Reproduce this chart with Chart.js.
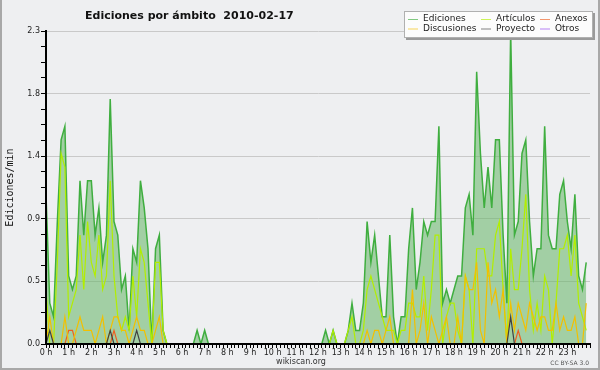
<!DOCTYPE html>
<html>
<head>
<meta charset="utf-8">
<script src="https://cdn.jsdelivr.net/npm/chart.js@4.4.1/dist/chart.umd.min.js"></script>
<style>
  html, body { margin: 0; padding: 0; background: #eeeff1; }
  #wrap { width: 600px; height: 370px; }
</style>
</head>
<body>
<div id="wrap"><canvas id="scopeChart" width="600" height="370"></canvas></div>
<script>
const chartTitle = 'Ediciones por ámbito  2010-02-17'
const yTitle = 'Ediciones/min'
const footerSite = 'wikiscan.org'
const footerLicense = 'CC BY-SA 3.0'

// one slot every 10 minutes (x in minutes since 0 h)
const slotMinutes = Array.from({ length: 144 }, (_, i) => i * 10)
const hourLabels = ['0 h', '1 h', '2 h', '3 h', '4 h', '5 h', '6 h', '7 h', '8 h', '9 h', '10 h', '11 h',
  '12 h', '13 h', '14 h', '15 h', '16 h', '17 h', '18 h', '19 h', '20 h', '21 h', '22 h', '23 h']
const yMax = 2.3
const yTickLabels = ['0.0', '0.5', '0.9', '1.4', '1.8', '2.3']

// edits per minute, 12 slots (2 hours) per row
const ediciones = [
  1.1, 0.3, 0.2, 0.9, 1.5, 1.6, 0.5, 0.4, 0.5, 1.2, 0.8, 1.2,
  1.2, 0.8, 1.0, 0.6, 0.8, 1.8, 0.9, 0.8, 0.4, 0.5, 0.1, 0.7,
  0.6, 1.2, 1.0, 0.7, 0, 0.7, 0.8, 0.1, 0, 0, 0, 0,
  0, 0, 0, 0, 0.1, 0, 0.1, 0, 0, 0, 0, 0,
  0, 0, 0, 0, 0, 0, 0, 0, 0, 0, 0, 0,
  0, 0, 0, 0, 0, 0, 0, 0, 0, 0, 0, 0,
  0, 0, 0.1, 0, 0.1, 0, 0, 0, 0.1, 0.3, 0.1, 0.1,
  0.3, 0.9, 0.6, 0.8, 0.5, 0.2, 0.2, 0.8, 0.2, 0, 0.2, 0.2,
  0.7, 1.0, 0.4, 0.6, 0.9, 0.8, 0.9, 0.9, 1.6, 0.3, 0.4, 0.3,
  0.4, 0.5, 0.5, 1.0, 1.1, 0.8, 2.0, 1.4, 1.0, 1.3, 1.0, 1.5,
  1.5, 0.8, 0.3, 2.3, 0.8, 0.9, 1.4, 1.5, 0.9, 0.5, 0.7, 0.7,
  1.6, 0.8, 0.7, 0.7, 1.1, 1.2, 0.9, 0.7, 1.1, 0.5, 0.4, 0.6
]
const articulos = [
  0.4, 0, 0, 0.6, 1.4, 1.3, 0.2, 0.3, 0.4, 0.8, 0.4, 0.9,
  0.6, 0.5, 0.8, 0.4, 0.5, 1.2, 0.5, 0.2, 0.1, 0.2, 0.1, 0.5,
  0.2, 0.7, 0.6, 0.3, 0, 0.6, 0.6, 0.1, 0, 0, 0, 0,
  0, 0, 0, 0, 0, 0, 0, 0, 0, 0, 0, 0,
  0, 0, 0, 0, 0, 0, 0, 0, 0, 0, 0, 0,
  0, 0, 0, 0, 0, 0, 0, 0, 0, 0, 0, 0,
  0, 0, 0, 0, 0.1, 0, 0, 0, 0.1, 0.2, 0, 0,
  0.1, 0.4, 0.5, 0.4, 0.3, 0.2, 0.1, 0.1, 0.1, 0, 0.1, 0.1,
  0.3, 0.3, 0.2, 0.2, 0.5, 0.1, 0.4, 0.8, 0.8, 0, 0.2, 0.3,
  0.3, 0.1, 0, 0.5, 0.4, 0, 0.7, 0.7, 0.7, 0.5, 0.5, 0.8,
  0.9, 0.4, 0, 0.7, 0.4, 0.4, 0.7, 1.1, 0.4, 0.1, 0.3, 0.1,
  0.5, 0.4, 0, 0.3, 0.7, 0.7, 0.8, 0.5, 0.8, 0.3, 0.2, 0.1
]
const anexos = [
  0, 0, 0, 0, 0, 0, 0.1, 0.1, 0, 0, 0, 0,
  0, 0, 0, 0, 0, 0, 0.1, 0, 0, 0, 0, 0,
  0, 0, 0, 0, 0, 0, 0, 0, 0, 0, 0, 0,
  0, 0, 0, 0, 0, 0, 0, 0, 0, 0, 0, 0,
  0, 0, 0, 0, 0, 0, 0, 0, 0, 0, 0, 0,
  0, 0, 0, 0, 0, 0, 0, 0, 0, 0, 0, 0,
  0, 0, 0, 0, 0, 0, 0, 0, 0, 0, 0, 0,
  0, 0, 0, 0, 0, 0, 0, 0, 0, 0, 0, 0,
  0, 0, 0, 0, 0, 0, 0, 0, 0, 0, 0, 0,
  0, 0, 0, 0, 0, 0, 0, 0, 0, 0, 0, 0,
  0, 0, 0, 0, 0, 0.1, 0, 0, 0, 0, 0, 0,
  0, 0, 0, 0, 0, 0, 0, 0, 0, 0, 0, 0
]
const discusiones = [
  0, 0.2, 0, 0, 0, 0.2, 0, 0, 0.1, 0.2, 0.1, 0.1,
  0.1, 0, 0.1, 0.2, 0, 0.1, 0.2, 0.2, 0.1, 0.1, 0, 0.1,
  0.2, 0.1, 0.1, 0, 0, 0.1, 0.2, 0, 0, 0, 0, 0,
  0, 0, 0, 0, 0, 0, 0, 0, 0, 0, 0, 0,
  0, 0, 0, 0, 0, 0, 0, 0, 0, 0, 0, 0,
  0, 0, 0, 0, 0, 0, 0, 0, 0, 0, 0, 0,
  0, 0, 0, 0, 0, 0, 0, 0, 0, 0, 0, 0,
  0, 0.1, 0, 0.1, 0.1, 0, 0.1, 0.2, 0, 0, 0, 0,
  0, 0.4, 0, 0.1, 0.3, 0, 0.2, 0.1, 0, 0.1, 0.2, 0,
  0, 0.2, 0, 0.5, 0.4, 0.4, 0.6, 0.1, 0, 0.6, 0.3, 0.4,
  0.2, 0.4, 0, 0.3, 0.1, 0.3, 0.2, 0.1, 0.3, 0.2, 0.1, 0.2,
  0.2, 0.1, 0.1, 0.3, 0.1, 0.2, 0.1, 0.1, 0.2, 0, 0, 0.3
]
const proyecto = [
  0, 0.1, 0, 0, 0, 0, 0, 0, 0, 0, 0, 0,
  0, 0, 0, 0, 0, 0.1, 0, 0, 0, 0, 0, 0,
  0.1, 0, 0, 0, 0, 0, 0, 0, 0, 0, 0, 0,
  0, 0, 0, 0, 0, 0, 0, 0, 0, 0, 0, 0,
  0, 0, 0, 0, 0, 0, 0, 0, 0, 0, 0, 0,
  0, 0, 0, 0, 0, 0, 0, 0, 0, 0, 0, 0,
  0, 0, 0, 0, 0, 0, 0, 0, 0, 0, 0, 0,
  0, 0, 0, 0, 0, 0, 0, 0, 0, 0, 0, 0,
  0, 0, 0, 0, 0, 0, 0, 0, 0, 0, 0, 0,
  0, 0, 0, 0, 0, 0, 0, 0, 0, 0, 0, 0,
  0, 0, 0, 0.2, 0, 0, 0, 0, 0, 0, 0, 0,
  0, 0, 0, 0, 0, 0, 0, 0, 0, 0, 0, 0
]
const otros = [
  0, 0, 0, 0, 0, 0, 0, 0, 0, 0, 0, 0,
  0, 0, 0, 0, 0, 0, 0, 0, 0, 0, 0, 0,
  0, 0, 0, 0, 0, 0, 0, 0, 0, 0, 0, 0,
  0, 0, 0, 0, 0, 0, 0, 0, 0, 0, 0, 0,
  0, 0, 0, 0, 0, 0, 0, 0, 0, 0, 0, 0,
  0, 0, 0, 0, 0, 0, 0, 0, 0, 0, 0, 0,
  0, 0, 0, 0, 0, 0, 0, 0, 0, 0, 0, 0,
  0, 0, 0, 0, 0, 0, 0, 0, 0, 0, 0, 0,
  0, 0, 0, 0, 0, 0, 0, 0, 0, 0, 0, 0,
  0, 0, 0, 0, 0, 0, 0, 0, 0, 0, 0, 0,
  0, 0, 0, 0, 0, 0, 0, 0, 0, 0, 0, 0,
  0, 0, 0, 0, 0, 0, 0, 0, 0, 0, 0, 0
]

const lineSet = (label, data, color, order, extra = {}) => ({
  label,
  data,
  borderColor: color,
  borderWidth: 1.2,
  pointRadius: 0,
  tension: 0,
  fill: false,
  order,
  ...extra
})

const datasets = [
  lineSet('Ediciones', ediciones, '#3fae3f', 6, {
    borderWidth: 1.5,
    fill: 'origin',
    backgroundColor: 'rgba(100, 180, 100, 0.55)'
  }),
  lineSet('Artículos', articulos, '#b2ee00', 5),
  lineSet('Anexos', anexos, '#ee6020', 4),
  lineSet('Discusiones', discusiones, '#f2c000', 3),
  lineSet('Proyecto', proyecto, '#404040', 2),
  lineSet('Otros', otros, '#9040f0', 1)
]

// background, frame, title, footer and the boxed legend
const decor = {
  id: 'decor',
  beforeDraw (chart) {
    const { ctx, width, height } = chart
    ctx.save()
    ctx.fillStyle = '#eeeff1'
    ctx.fillRect(0, 0, width, height)
    ctx.restore()
  },
  afterDraw (chart) {
    const { ctx, width, height } = chart
    ctx.save()

    ctx.strokeStyle = '#a8a8a8'
    ctx.lineWidth = 2
    ctx.beginPath()
    ctx.moveTo(1, 0)
    ctx.lineTo(1, height - 1)
    ctx.lineTo(width - 1, height - 1)
    ctx.lineTo(width - 1, 0)
    ctx.stroke()

    ctx.fillStyle = '#111'
    ctx.textBaseline = 'alphabetic'
    ctx.textAlign = 'left'
    ctx.font = "bold 11px 'DejaVu Sans'"
    ctx.fillText(chartTitle, 85, 19)

    ctx.fillStyle = '#333'
    ctx.font = "8px 'DejaVu Sans'"
    ctx.textAlign = 'center'
    ctx.fillText(footerSite, 301, 364)
    ctx.fillStyle = '#555'
    ctx.font = "6px 'DejaVu Sans'"
    ctx.textAlign = 'right'
    ctx.fillText(footerLicense, 589, 365)

    // legend
    const box = { x: 404, y: 11, w: 189, h: 27 }
    ctx.fillStyle = '#9a9a9a'
    ctx.fillRect(box.x + 2, box.y + 2, box.w, box.h)
    ctx.fillStyle = '#fcfcfc'
    ctx.fillRect(box.x, box.y, box.w, box.h)
    ctx.strokeStyle = '#b0b0b0'
    ctx.lineWidth = 1
    ctx.strokeRect(box.x + 0.5, box.y + 0.5, box.w - 1, box.h - 1)

    const cols = [408, 481, 540]
    const rows = [19, 28.5]
    ctx.font = "9px 'DejaVu Sans'"
    ctx.textAlign = 'left'
    ctx.textBaseline = 'middle'
    chart.data.datasets.forEach((ds, i) => {
      const x = cols[i % 3]
      const y = rows[Math.floor(i / 3)]
      ctx.globalAlpha = 0.65
      ctx.strokeStyle = ds.borderColor
      ctx.beginPath()
      ctx.moveTo(x, y + 0.5)
      ctx.lineTo(x + 10, y + 0.5)
      ctx.stroke()
      ctx.globalAlpha = 1
      ctx.fillStyle = '#222'
      ctx.fillText(ds.label, x + 15, y)
    })

    ctx.restore()
  }
}

const element = document.getElementById('scopeChart')
new Chart(element, {
  type: 'line',
  data: { labels: slotMinutes, datasets },
  plugins: [decor],
  options: {
    responsive: false,
    animation: false,
    events: [],
    devicePixelRatio: 1,
    layout: { padding: { top: 31, right: 10, bottom: 0, left: 0 } },
    plugins: {
      legend: { display: false },
      tooltip: { enabled: false }
    },
    scales: {
      x: {
        type: 'linear',
        min: 0,
        max: 1440,
        afterFit: (scale) => { scale.height = 26 },
        afterBuildTicks: (scale) => {
          scale.ticks = Array.from({ length: 145 }, (_, k) => ({ value: k * 10 }))
        },
        ticks: {
          autoSkip: false,
          maxRotation: 0,
          padding: 0,
          color: '#222',
          font: { family: 'DejaVu Sans', size: 8 },
          callback: (value, index) => (index % 6 === 0 && index < 144) ? hourLabels[index / 6] : ''
        },
        grid: {
          drawOnChartArea: false,
          tickLength: 4,
          tickColor: '#000'
        },
        border: { color: '#000', width: 2, z: 1 }
      },
      y: {
        min: 0,
        max: yMax,
        afterFit: (scale) => { scale.width = 46 },
        afterBuildTicks: (scale) => {
          scale.ticks = Array.from({ length: 21 }, (_, k) => ({ value: k * yMax / 20 }))
        },
        ticks: {
          autoSkip: false,
          padding: 1,
          color: '#222',
          font: { family: 'DejaVu Sans', size: 8 },
          callback: (value, index) => index % 4 === 0 ? yTickLabels[index / 4] : ''
        },
        grid: {
          color: (ctx) => (ctx.index % 4 === 0 && ctx.index > 0) ? '#c9c9c9' : 'rgba(0,0,0,0)',
          tickLength: 5,
          tickColor: '#000'
        },
        border: { color: '#000', width: 2, z: 1 },
        title: {
          display: true,
          text: yTitle,
          color: '#111',
          padding: { top: 4, bottom: 0 },
          font: { family: 'DejaVu Sans Mono', size: 10 }
        }
      }
    }
  }
})
</script>
</body>
</html>
